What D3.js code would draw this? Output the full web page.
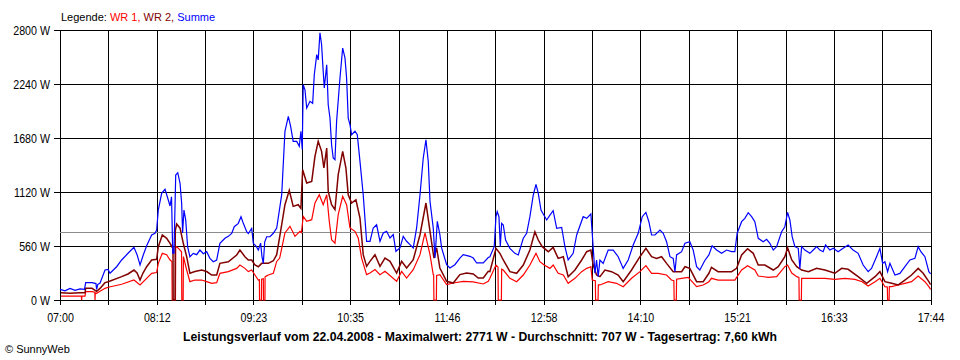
<!DOCTYPE html>
<html>
<head>
<meta charset="utf-8">
<script src="https://cdn.jsdelivr.net/npm/d3@7"></script>
<style>
  body { margin: 0; background: #fff; }
  .narrow { font-family: "Liberation Sans", Arial, sans-serif; }
  .plain { font-family: "Liberation Sans", Arial, sans-serif; }
</style>
</head>
<body>
<svg id="chart" width="960" height="360"></svg>
<script>
// minutes after 07:00, watts
const yTicks = [0, 560, 1120, 1680, 2240, 2800];
const xLabels = ["07:00", "08:12", "09:23", "10:35", "11:46", "12:58", "14:10", "15:21", "16:33", "17:44"];
const dayMinutes = 644;
const average = 707;

const summe = [
  [0,110],[3.7,95],[7.4,120],[11.1,100],[14.8,115],[18.1,110],[19.0,180],[23.7,180],[26.6,170],[27.1,110],[27.9,160],[29.6,175],
  [33.3,311],[35.5,318],[37.0,277],[41.9,345],[45.6,415],[50.5,487],[54.7,546],[57.0,470],[59.2,363],[61.6,467],[64.1,563],
  [67.8,674],[70.3,692],[71.5,726],[72.7,933],[75.2,1106],[77.7,1148],[80.1,1037],[81.4,975],[82.5,1070],[83.4,487],[84.3,487],
  [85.6,1296],[87.1,1320],[88.8,1210],[90.0,1000],[90.7,694],[91.7,933],[93.0,830],[94.4,553],[96.1,449],[98.6,484],[101.1,470],
  [103.5,518],[106.0,480],[108.5,501],[110.9,432],[113.4,397],[115.9,415],[118.3,588],[122.0,640],[124.5,660],[127.0,690],
  [128.9,760],[131.9,795],[133.9,864],[135.6,795],[138.1,708],[139.3,690],[141.8,743],[143.0,588],[145.0,560],[146.7,518],
  [148.4,590],[149.4,450],[150.4,380],[151.4,600],[152.9,656],[155.3,656],[157.8,692],
  [160.3,747],[164.0,1092],[166.4,1749],[168.9,1905],[170.6,1800],[172.5,1645],[175.1,1645],[177.0,1594],[178.2,1750],
  [179.2,1560],[179.9,2233],[181.2,2180],[182.5,1991],[184.9,2060],[186.9,2040],[188.1,2336],[189.9,2544],[191.0,2490],
  [192.3,2771],[193.5,2650],[194.7,2371],[195.5,2200],[197.3,2440],[198.4,2025],[199.7,1887],[200.9,1610],[202.1,1472],
  [203.4,1455],[204.6,1850],[207.1,2302],[209.1,2613],[210.8,2510],[212.0,2302],[213.2,1887],[214.5,1818],[215.7,1714],
  [218.2,1750],[219.9,1714],[221.9,1438],[224.3,1092],[226.8,609],[229.3,609],[231.7,747],[234.2,780],[236.7,609],[239.1,695],
  [241.6,712],[244.1,643],[246.5,678],[248.5,505],[251.5,540],[253.9,660],[256.4,609],[258.9,574],[261.3,540],[263.8,747],
  [266.3,1092],[268.7,1472],[270.7,1662],[272.4,1438],[273.7,1023],[276.1,747],[277.4,435],[279.1,816],[281.0,678],[282.3,540],
  [286.0,366],[288.4,332],[292.1,366],[295.8,435],[298.3,470],[303.2,453],[305.7,435],[308.2,384],[313.1,384],[316.8,440],
  [318.0,449],[321.2,553],[322.5,864],[323.4,916],[324.7,864],[325.7,553],[326.7,795],[327.9,778],[329.6,622],[332.8,536],
  [336.5,484],[339.0,467],[342.7,640],[345.2,692],[347.6,864],[350.1,1089],[352.1,1200],[353.8,1106],[355.8,933],[360.0,830],
  [362.4,881],[364.8,926],[367.4,743],[371.1,753],[373.5,553],[375.9,415],[379.6,484],[382.2,674],[387.0,864],[389.6,847],
  [392.7,892],[393.7,692],[395.7,277],[396.9,415],[398.1,242],[399.4,415],[401.8,380],[405.5,518],[409.2,518],[412.9,449],
  [416.6,328],[420.3,415],[424.0,570],[427.7,692],[430.7,864],[433.4,909],[435.6,812],[437.6,674],[440.1,674],[443.8,726],
  [446.2,692],[448.7,605],[451.2,449],[453.6,432],[454.9,294],[456.1,467],[459.8,501],[462.3,588],[465.9,605],[468.4,518],
  [470.9,345],[473.3,311],[477.0,410],[480.0,467],
  [482.4,563],[485.7,518],[489.4,484],[493.1,518],[496.8,501],[499.2,501],[500.9,692],[504.2,812],[506.6,847],[509.1,905],
  [511.6,864],[514.0,812],[516.5,640],[520.2,605],[522.7,630],[525.1,588],[527.6,518],[530.1,553],[533.8,708],[536.2,760],
  [538.2,909],[539.9,830],[541.6,657],[543.6,553],[546.1,536],[547.3,328],[548.6,553],[551.0,518],[554.7,484],[557.2,518],
  [559.7,553],[562.1,518],[564.5,501],[566.3,570],[569.5,518],[572.0,536],[575.6,501],[579.3,536],[583.0,570],[586.7,518],
  [590.4,484],[594.1,363],[597.8,294],[600.3,328],[604.0,449],[606.5,536],[608.5,380],[610.2,397],[612.2,294],[613.9,380],
  [617.6,259],[621.3,276],[625.0,345],[628.7,415],[632.4,432],[634.8,553],[636.8,501],[639.8,449],[642.7,294],[644,270]
];

const wr2 = [
  [0.7,75],[7.4,70],[14.8,75],[18.5,75],[19.0,121],[23.7,121],[27.1,90],[29.6,120],[33.3,180],[35.7,190],[45.6,242],[50.3,270],
  [54.7,311],[57.0,280],[59.2,207],[61.4,280],[64.1,345],[67.8,415],[71.5,422],[72.7,553],[75.7,674],[78.9,640],[81.4,588],
  [82.8,550],[83.6,540],[83.7,0],[85.1,0],[85.3,720],[86.3,788],[88.8,745],[91.2,588],[93.7,449],[96.1,277],[99.8,295],
  [104.8,311],[108.5,295],[112.2,259],[115.9,259],[118.3,380],[124.5,397],[130.7,467],[133.1,518],[136.8,449],[139.3,415],
  [141.8,415],[144.2,363],[146.7,345],[149.2,380],[154.1,380],[157.8,407],
  [160.3,470],[164.0,781],[166.4,988],[169.6,1137],[172.5,971],[176.2,988],[178.2,950],[179.5,1351],[182.5,1213],[186.2,1230],
  [188.6,1490],[191.0,1645],[193.5,1542],[195.2,1369],[197.3,1576],[198.4,1127],[200.9,988],[203.4,937],[205.8,1300],
  [209.1,1542],[211.5,1369],[213.2,1092],[215.7,1006],[218.9,1040],[221.9,850],[224.3,470],[226.8,349],[229.3,401],[233.0,470],
  [236.7,349],[240.4,435],[244.1,401],[249.0,280],[252.7,401],[256.4,332],[261.3,418],[266.3,677],[270.7,1006],[273.7,712],
  [276.6,435],[278.6,540],[281.0,332],[286.0,194],[290.9,176],[295.8,263],[300.8,280],[305.7,270],[309.4,228],[313.1,228],
  [316.8,297],
  [318.0,294],[322.5,536],[325.4,484],[327.9,415],[332.8,294],[337.8,277],[342.7,363],[347.6,518],[351.3,708],[353.8,622],
  [356.7,553],[361.2,501],[364.8,546],[368.5,432],[372.3,449],[375.9,242],[380.9,311],[385.9,415],[389.6,501],[392.7,518],
  [394.4,363],[396.9,259],[399.4,242],[403.1,311],[408.0,294],[412.9,259],[416.6,190],[422.8,311],[429.0,449],[433.4,536],
  [437.6,449],[441.3,432],[445.0,449],[448.7,380],[453.6,294],[459.8,294],[462.3,345],[465.9,328],[470.9,190],[475.8,190],
  [480.0,277],
  [481.9,339],[486.8,294],[491.8,294],[496.8,294],[500.5,328],[504.2,467],[508.6,532],[512.8,484],[516.5,363],[521.4,363],
  [527.6,311],[531.3,345],[536.2,449],[538.2,542],[541.3,415],[545.0,345],[548.6,311],[553.6,294],[559.7,328],[565.8,311],
  [573.2,277],[578.2,328],[583.0,318],[590.4,242],[596.7,173],[602.9,242],[606.5,294],[610.2,190],[615.2,173],[620.1,156],
  [625.0,207],[629.9,259],[634.8,328],[638.5,277],[642.7,190],[644,160]
];

const wr1 = [
  [0.7,40],[7.4,40],[15.8,40],[16.0,0],[16.2,40],[18.5,40],[19.0,86],[23.7,86],[25.8,80],[25.9,0],[26.1,75],[27.1,70],
  [29.6,90],[33.3,121],[35.7,132],[45.6,163],[54.7,207],[59.2,156],[64.1,225],[67.8,277],[71.5,285],[72.7,380],[75.7,484],
  [78.9,470],[81.4,415],[82.8,400],[83.0,0],[85.4,0],[85.6,540],[86.3,553],[88.8,518],[89.9,500],[90.1,0],[91.1,0],[91.3,450],
  [93.7,311],[96.1,190],[99.8,207],[104.8,207],[108.5,190],[112.2,173],[115.9,180],[118.3,277],[124.5,294],[130.7,328],
  [133.1,363],[136.8,328],[139.3,294],[141.8,311],[144.2,259],[146.7,207],[147.5,210],[147.6,0],[149.0,0],[149.1,215],
  [150.4,220],[150.5,0],[151.6,0],[151.7,240],[152.9,250],[154.1,259],[157.8,277],
  [160.3,400],[162.5,435],[166.4,695],[170.1,764],[173.8,660],[177.5,712],[178.6,700],[179.9,868],[182.5,816],[186.2,833],
  [188.6,1006],[191.8,1092],[194.7,988],[197.3,1092],[199.2,816],[200.9,625],[203.4,590],[205.8,885],[209.1,1075],[212.0,988],
  [214.5,747],[218.2,712],[220.6,643],[223.1,435],[226.8,263],[229.3,280],[233.0,315],[236.7,263],[240.4,297],[249.0,194],
  [252.7,297],[256.4,228],[261.3,315],[266.3,470],[270.0,695],[273.7,470],[276.1,263],[276.4,260],[276.6,0],[278.4,0],
  [278.6,255],[281.0,263],[286.0,159],[290.9,176],[298.3,194],[305.7,187],[313.1,166],[316.8,194],
  [318.0,225],[322.5,363],[324.0,340],[324.2,0],[326.5,0],[326.7,320],[327.9,311],[332.8,225],[337.8,190],[342.7,259],
  [347.6,363],[352.1,484],[355.0,397],[358.2,363],[362.4,328],[364.8,363],[368.5,277],[372.3,259],[375.9,173],[380.9,225],
  [385.9,294],[389.6,328],[392.7,345],[393.7,207],[396.0,200],[396.2,0],[398.0,0],[398.2,156],[399.4,156],[405.5,190],
  [411.7,173],[416.6,138],[422.8,225],[429.0,294],[433.4,356],[437.6,277],[442.5,277],[448.7,259],[452.3,207],[454.1,200],
  [454.3,0],[455.9,0],[456.1,215],[459.8,225],[464.7,235],[470.9,138],[475.8,156],[480.0,190],
  [481.9,225],[486.8,207],[491.8,207],[499.2,207],[504.2,311],[508.6,356],[514.0,311],[516.5,249],[523.9,235],[530.1,242],
  [536.2,345],[538.2,363],[541.3,280],[545.0,242],[546.6,235],[546.8,0],[548.4,0],[548.6,225],[551.0,225],[558.4,225],
  [565.8,225],[573.2,214],[580.6,225],[588.0,214],[593.4,190],[597.8,145],[602.9,190],[606.5,225],[610.2,138],[612.0,135],
  [612.2,0],[613.3,0],[613.5,138],[615.2,138],[620.1,156],[625.0,173],[629.9,190],[634.8,249],[639.8,190],[642.7,138],[644,110]
];

const plotLeft = 60, plotRight = 930.6, plotTop = 30, plotBottom = 300;

const svg = d3.select("#chart");
svg.append("rect").attr("width", 960).attr("height", 360).attr("fill", "#fff");

const x = d3.scaleLinear().domain([0, dayMinutes]).range([plotLeft, plotRight]);
const y = d3.scaleLinear().domain([0, 2800]).range([plotBottom, plotTop]);
const gridMinutes = d3.range(19).map(i => i * dayMinutes / 18);

// squeeze text horizontally, the original uses a condensed bitmap font
function condense(sel, factor) {
  sel.each(function () {
    const w = this.getComputedTextLength();
    if (w > 0) {
      d3.select(this)
        .attr("textLength", w * factor)
        .attr("lengthAdjust", "spacingAndGlyphs");
    }
  });
}

// grid lines
svg.append("g")
  .attr("transform", `translate(${plotLeft},0)`)
  .call(d3.axisLeft(y).tickValues(yTicks).tickSize(-(plotRight - plotLeft)).tickFormat(""))
  .call(g => g.select(".domain").remove());

svg.append("g")
  .attr("transform", `translate(0,${plotTop})`)
  .call(d3.axisBottom(x).tickValues(gridMinutes).tickSize(plotBottom - plotTop).tickFormat(""))
  .call(g => g.select(".domain").remove());

// axes with labels
svg.append("g")
  .attr("transform", `translate(${plotLeft},0)`)
  .call(d3.axisLeft(y).tickValues(yTicks).tickSize(6).tickPadding(4).tickFormat(d => d + " W"))
  .call(g => g.select(".domain").remove());

svg.append("g")
  .attr("transform", `translate(0,${plotBottom})`)
  .call(d3.axisBottom(x).tickValues(gridMinutes).tickSize(5).tickPadding(8)
    .tickFormat((d, i) => i % 2 === 0 ? xLabels[i / 2] : ""))
  .call(g => g.select(".domain").remove());

svg.selectAll(".tick line")
  .attr("stroke", "#000")
  .attr("stroke-width", 1)
  .attr("shape-rendering", "crispEdges");
svg.selectAll(".tick text")
  .attr("class", "narrow")
  .attr("font-size", 13)
  .attr("fill", "#000")
  .call(condense, 0.82);

// average line
svg.append("line")
  .attr("x1", plotLeft).attr("x2", plotRight)
  .attr("y1", Math.round(y(average)) + 0.5).attr("y2", Math.round(y(average)) + 0.5)
  .attr("stroke", "#8c8c8c")
  .attr("shape-rendering", "crispEdges");

const line = d3.line().x(d => x(d[0])).y(d => y(d[1]));

svg.append("path").datum(wr1)
  .attr("d", line).attr("fill", "none").attr("stroke", "#ff0000").attr("stroke-width", 1.2);
svg.append("path").datum(wr2)
  .attr("d", line).attr("fill", "none").attr("stroke", "#800000").attr("stroke-width", 1.5);
svg.append("path").datum(summe)
  .attr("d", line).attr("fill", "none").attr("stroke", "#0000ff").attr("stroke-width", 1.2);

// legend
const legend = svg.append("text")
  .attr("class", "plain")
  .attr("x", 61).attr("y", 21)
  .attr("font-size", 11);
legend.append("tspan").attr("fill", "#000").text("Legende: ");
legend.append("tspan").attr("fill", "#ff0000").text("WR 1, ");
legend.append("tspan").attr("fill", "#800000").text("WR 2, ");
legend.append("tspan").attr("fill", "#0000ff").text("Summe");

svg.append("text")
  .attr("class", "narrow")
  .attr("x", 480).attr("y", 341)
  .attr("text-anchor", "middle")
  .attr("font-size", 13)
  .attr("font-weight", "bold")
  .attr("textLength", 594)
  .attr("lengthAdjust", "spacingAndGlyphs")
  .text("Leistungsverlauf vom 22.04.2008 - Maximalwert: 2771 W - Durchschnitt: 707 W - Tagesertrag: 7,60 kWh");

svg.append("text")
  .attr("class", "plain")
  .attr("x", 5).attr("y", 353)
  .attr("font-size", 11)
  .text("© SunnyWeb");
</script>
</body>
</html>
